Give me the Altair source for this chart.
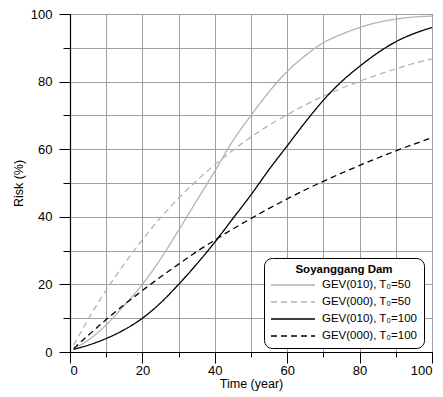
import altair as alt
import pandas as pd

years = [1, 5, 10, 15, 20, 25, 30, 35, 40, 45, 50, 55, 60, 65, 70, 75, 80, 85, 90, 95, 100]
gev010_t50 = [1.0, 3.5, 8.0, 13.8, 20.0, 27.5, 36.0, 44.8, 53.5, 62.5, 70.0, 77.0, 83.0, 87.7, 91.5, 94.0, 96.0, 97.5, 98.5, 99.1, 99.4]
gev000_t50 = [2.0, 9.6, 18.3, 26.1, 33.2, 39.7, 45.5, 50.7, 55.4, 59.7, 63.6, 67.1, 70.2, 73.1, 75.7, 78.0, 80.1, 82.0, 83.8, 85.4, 86.7]
gev010_t100 = [0.8, 2.0, 4.0, 6.6, 10.0, 14.5, 20.0, 26.0, 32.5, 39.5, 46.5, 54.0, 61.0, 68.0, 74.5, 80.0, 84.5, 88.5, 91.8, 94.2, 96.0]
gev000_t100 = [1.0, 4.9, 9.6, 14.0, 18.2, 22.2, 26.0, 29.7, 33.1, 36.4, 39.5, 42.5, 45.3, 48.0, 50.5, 52.9, 55.2, 57.4, 59.5, 61.5, 63.4]

series = ["GEV(010), T\u2080=50", "GEV(000), T\u2080=50", "GEV(010), T\u2080=100", "GEV(000), T\u2080=100"]
colors = ["#b3b3b3", "#b3b3b3", "#000000", "#000000"]
dashes = [[1, 0], [6, 4], [1, 0], [6, 4]]

rows = []
for name, vals in zip(series, [gev010_t50, gev000_t50, gev010_t100, gev000_t100]):
    for yr, v in zip(years, vals):
        rows.append({"year": yr, "risk": v, "series": name})
df = pd.DataFrame(rows)

ticks = list(range(0, 101, 10))
font = "Liberation Sans"

chart = alt.Chart(df).mark_line(interpolate="monotone", strokeWidth=1.3).encode(
    x=alt.X("year:Q", scale=alt.Scale(domain=[0, 100], nice=False),
            axis=alt.Axis(title="Time (year)", values=ticks,
                          labelExpr="datum.value % 20 === 0 ? datum.label : ''",
                          tickSize={"condition": {"test": "datum.value % 20 === 0", "value": 11}, "value": 5},
                          labelPadding=1, titlePadding=0)),
    y=alt.Y("risk:Q", scale=alt.Scale(domain=[0, 100], nice=False),
            axis=alt.Axis(title="Risk (%)", values=ticks,
                          labelExpr="datum.value % 20 === 0 ? datum.label : ''",
                          tickSize={"condition": {"test": "datum.value % 20 === 0", "value": 11}, "value": 7},
                          labelPadding=7, titlePadding=5)),
    color=alt.Color("series:N", scale=alt.Scale(domain=series, range=colors),
                    legend=alt.Legend(title="Soyanggang Dam")),
    strokeDash=alt.StrokeDash("series:N", scale=alt.Scale(domain=series, range=dashes),
                              legend=alt.Legend(title="Soyanggang Dam")),
).properties(
    width=362, height=338,
    autosize=alt.AutoSizeParams(type="none"),
    padding={"left": 70, "top": 14, "right": 11, "bottom": 45},
).configure_view(
    stroke="#000000", strokeWidth=1
).configure_axis(
    grid=True, gridColor="#a0a0a0", gridWidth=1, domainColor="#000000", domainWidth=1.2,
    tickColor="#000000", tickWidth=1, labelFont=font, labelFontSize=13, labelColor="#000000",
    titleFont=font, titleFontSize=12.5, titleFontWeight="normal", titleColor="#000000",
).configure_legend(
    orient="none", legendX=194, legendY=244, strokeColor="#000000", cornerRadius=8,
    fillColor="#ffffff", padding=6, titleAnchor="middle", titleFont=font, titleFontSize=11.5,
    titleFontWeight="bold", titleColor="#000000", labelFont=font, labelFontSize=11.5,
    labelColor="#000000", symbolType="M-1,0H7", symbolSize=121, symbolStrokeWidth=1.3,
    rowPadding=5, titlePadding=3, labelOffset=39,
)

chart.save("out.html", embed_options={"renderer": "svg", "actions": False})
